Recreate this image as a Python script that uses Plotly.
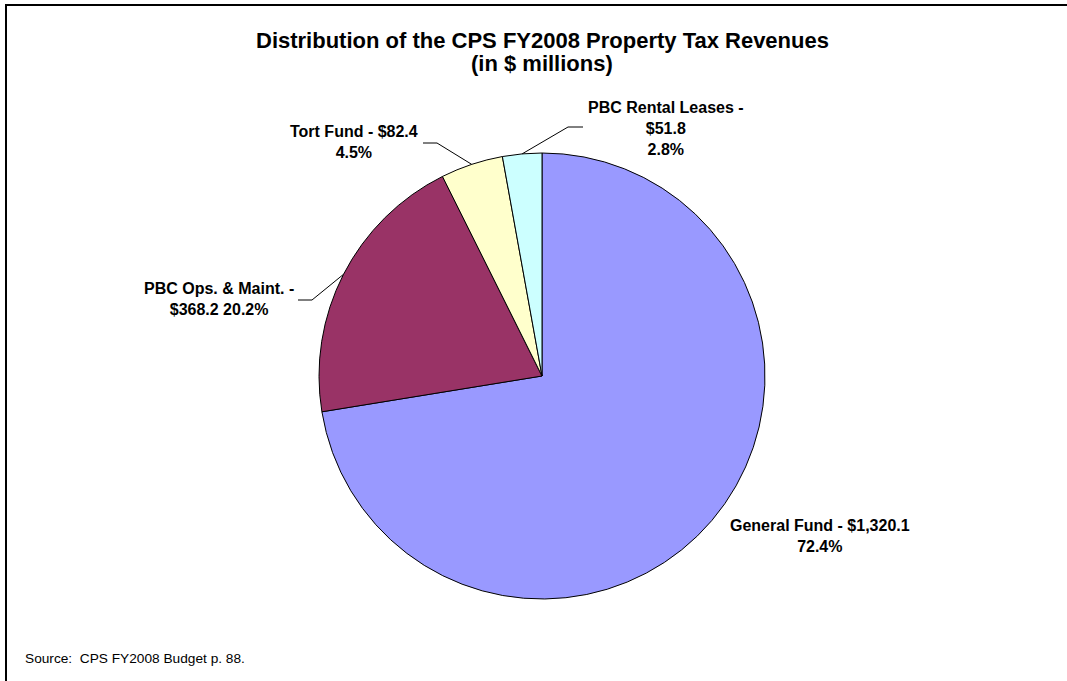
import math
import plotly.graph_objects as go

W, H = 1067, 681

# ---- data ----
categories = ["General Fund", "PBC Ops. & Maint.", "Tort Fund", "PBC Rental Leases"]
values = [1320.1, 368.2, 82.4, 51.8]
percents = ["72.4%", "20.2%", "4.5%", "2.8%"]
colors = ["#9999FF", "#993366", "#FFFFCC", "#CCFFFF"]
label_texts = [
    "General Fund - $1,320.1<br>72.4%",
    "PBC Ops. & Maint. -<br>$368.2 20.2%",
    "Tort Fund - $82.4<br>4.5%",
    "PBC Rental Leases -<br>$51.8<br>2.8%",
]
title_text = "Distribution of the CPS FY2008 Property Tax Revenues"
subtitle_text = "(in $ millions)"
source_text = "Source:&nbsp; CPS FY2008 Budget p. 88."


def px(x):
    return x / W


def py(y):
    return 1 - y / H


# pie geometry (pixels)
cx, cy, R = 542, 376, 223

fig = go.Figure(
    go.Pie(
        labels=categories,
        values=values,
        sort=False,
        direction="clockwise",
        rotation=0,
        marker=dict(colors=colors, line=dict(color="black", width=1)),
        textinfo="none",
        hoverinfo="label+value+percent",
        showlegend=False,
        domain=dict(x=[px(cx - R), px(cx + R)], y=[py(cy + R), py(cy - R)]),
    )
)

# label positions (center x, middle y) and leader elbows (None = no leader)
label_pos = [(820, 536), (219, 299), (354, 142), (666, 128)]
elbows = [None, ((298, 300), (312, 300)), ((423, 143), (437, 143)), ((583, 127), (568, 127))]

total = sum(values)
cum = 0.0
shapes = []
annotations = []
FONT = "Arial, Liberation Sans, sans-serif"
for i, v in enumerate(values):
    mid = (cum + v / 2) / total
    cum += v
    ang = 2 * math.pi * mid  # clockwise from 12 o'clock
    ex = cx + R * math.sin(ang)
    ey = cy - R * math.cos(ang)
    if elbows[i] is not None:
        (ax, ay), (bx, by) = elbows[i]
        shapes.append(
            dict(
                type="path",
                xref="paper",
                yref="paper",
                path=f"M {px(ax)} {py(ay)} L {px(bx)} {py(by)} L {px(ex)} {py(ey)}",
                line=dict(color="black", width=1),
            )
        )
    lx, ly = label_pos[i]
    annotations.append(
        dict(
            x=px(lx),
            y=py(ly),
            xref="paper",
            yref="paper",
            text=f"<b>{label_texts[i]}</b>",
            showarrow=False,
            xanchor="center",
            yanchor="middle",
            align="center",
            font=dict(family=FONT, size=16, color="black"),
        )
    )

# title lines
annotations.append(
    dict(x=px(542), y=py(40), xref="paper", yref="paper", text=f"<b>{title_text}</b>",
         showarrow=False, xanchor="center", yanchor="middle",
         font=dict(family=FONT, size=22, color="black"))
)
annotations.append(
    dict(x=px(542), y=py(63), xref="paper", yref="paper", text=f"<b>{subtitle_text}</b>",
         showarrow=False, xanchor="center", yanchor="middle",
         font=dict(family=FONT, size=22, color="black"))
)
# source
annotations.append(
    dict(x=px(23), y=py(658), xref="paper", yref="paper", text=source_text,
         showarrow=False, xanchor="left", yanchor="middle",
         font=dict(family=FONT, size=13.7, color="black"))
)

# outer frame
shapes.append(
    dict(type="rect", xref="paper", yref="paper",
         x0=px(6), x1=px(1080), y0=py(5), y1=py(700),
         line=dict(color="black", width=2), fillcolor="rgba(0,0,0,0)", layer="above")
)

fig.update_layout(
    width=W,
    height=H,
    margin=dict(l=0, r=0, t=0, b=0),
    paper_bgcolor="white",
    plot_bgcolor="white",
    shapes=shapes,
    annotations=annotations,
)

fig.write_html(
    "out.html",
    config={"displayModeBar": False},
    post_script="document.body.style.margin='0';document.body.style.overflow='hidden';",
)
